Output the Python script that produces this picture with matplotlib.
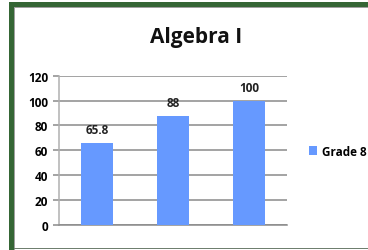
import matplotlib
matplotlib.use('Agg')
import matplotlib.pyplot as plt
from matplotlib.patches import Rectangle

# values
categories = ['A', 'B', 'C']
grades = [65.8, 88, 100]
labels = ['65.8', '88', '100']
yticks = [0, 20, 40, 60, 80, 100, 120]

plt.rcParams['font.family'] = ['Open Sans', 'DejaVu Sans']

W, H = 368, 251
fig = plt.figure(figsize=(W / 100, H / 100), dpi=100)
fig.patch.set_facecolor('white')

# frame: dark green on left/top, thin grey lines inside, grey line at bottom
def px_rect(x0, y0, w, h, color):
    fig.patches.append(Rectangle((x0 / W, 1 - (y0 + h) / H), w / W, h / H,
                                 transform=fig.transFigure, color=color, lw=0, zorder=0))

green = '#356635'
px_rect(9, 3, W - 9, 5, green)
px_rect(9, 3, 5, H - 3, green)
px_rect(14, 8, W - 14, 1.2, '#a0a0a0')
px_rect(14, 8, 1.2, H - 8, '#a0a0a0')
px_rect(14, 248.8, W - 14, 1.4, '#6f7f6f')

ax = fig.add_axes([59.3 / W, 1 - 226 / H, (287 - 59.3) / W, (226 - 76.7) / H])
x = range(len(categories))
bars = ax.bar(x, grades, width=0.42, color='#6699ff', zorder=3, label='Grade 8')

for b, t in zip(bars, labels):
    ax.annotate(t, (b.get_x() + b.get_width() / 2, b.get_height()),
                xytext=(0, 7), textcoords='offset pixels', ha='center', va='bottom',
                fontsize=8.5, fontweight='bold', color='#222222')

ax.set_xlim(-0.5, 2.5)
ax.set_ylim(0, 120)
ax.set_yticks(yticks)
ax.set_yticklabels([str(v) for v in yticks], fontsize=8.5, fontweight='bold')
ax.set_xticks([])
ax.yaxis.grid(True, color='#8a8a8a', lw=1.1, zorder=0)
ax.tick_params(axis='y', length=4, color='#8a8a8a', width=1.1, pad=4)
for s in ['top', 'right']:
    ax.spines[s].set_visible(False)
ax.spines['left'].set_color('#b0b0b0')
ax.spines['left'].set_linewidth(1.1)
ax.spines['bottom'].set_color('#8a8a8a')
ax.spines['bottom'].set_linewidth(1.1)
ax.set_facecolor('none')

fig.text(196 / W, 1 - 38 / H, 'Algebra I', ha='center', va='center',
         fontsize=15, fontweight='bold', color='#111111')

leg = ax.legend(loc='center left', bbox_to_anchor=(309 / W, 1 - 152 / H),
                bbox_transform=fig.transFigure, frameon=False,
                prop={'size': 8.5, 'weight': 'bold'}, handlelength=0.7,
                handleheight=0.7, handletextpad=0.4, borderpad=0, borderaxespad=0)

fig.savefig('out.png', dpi=100)
